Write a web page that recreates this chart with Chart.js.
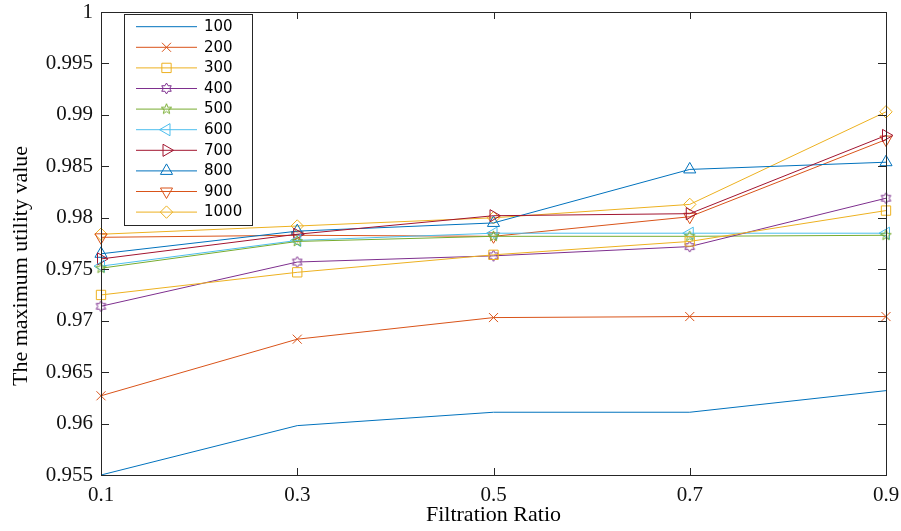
<!DOCTYPE html>
<html lang="en">
<head>
<meta charset="UTF-8">
<title>Maximum utility vs filtration ratio</title>
<script src="https://cdn.jsdelivr.net/npm/chart.js"></script>
<style>
  html, body { margin: 0; padding: 0; background: #fff; }
</style>
</head>
<body>
<canvas id="myChart" width="901" height="531"></canvas>
<script>
// data
var ratios = [0.1, 0.3, 0.5, 0.7, 0.9];
var seriesNames = ['100', '200', '300', '400', '500', '600', '700', '800', '900', '1000'];
var s100  = [0.9550, 0.9598, 0.9611, 0.9611, 0.9632];
var s200  = [0.9627, 0.9682, 0.9703, 0.9704, 0.9704];
var s300  = [0.9725, 0.9747, 0.9764, 0.9777, 0.9807];
var s400  = [0.9714, 0.9757, 0.9763, 0.9772, 0.9819];
var s500  = [0.9751, 0.9777, 0.9782, 0.9782, 0.9783];
var s600  = [0.9753, 0.9778, 0.9785, 0.9785, 0.9785];
var s700  = [0.9760, 0.9784, 0.9802, 0.9804, 0.9880];
var s800  = [0.9765, 0.9787, 0.9795, 0.9847, 0.9854];
var s900  = [0.9781, 0.9783, 0.9782, 0.9801, 0.9876];
var s1000 = [0.9784, 0.9792, 0.9800, 0.9813, 0.9903];
var xTicks = [0.1, 0.3, 0.5, 0.7, 0.9];
var yTicks = [0.955, 0.96, 0.965, 0.97, 0.975, 0.98, 0.985, 0.99, 0.995, 1];

var allSeries = [s100, s200, s300, s400, s500, s600, s700, s800, s900, s1000];
var colors = ['#0072BD', '#D95319', '#EDB120', '#7E2F8E', '#77AC30',
              '#4DBEEE', '#A2142F', '#0072BD', '#D95319', '#EDB120'];
var serif = '"Liberation Serif", "Times New Roman", serif';
var axisColor = '#262626';

// outline star used for the hexagram / pentagram markers
function starCanvas(n, outer, inner, color) {
    var size = Math.ceil(outer * 2 + 4);
    var c = document.createElement('canvas');
    c.width = size; c.height = size;
    var g = c.getContext('2d');
    g.strokeStyle = color;
    g.lineWidth = 1;
    g.beginPath();
    for (var i = 0; i < n * 2; i++) {
        var r = i % 2 ? inner : outer;
        var a = -Math.PI / 2 + i * Math.PI / n;
        var px = size / 2 + r * Math.cos(a), py = size / 2 + r * Math.sin(a);
        if (i) g.lineTo(px, py); else g.moveTo(px, py);
    }
    g.closePath();
    g.stroke();
    return c;
}

var markers = [
    { style: 'circle', radius: 0, rotation: 0 },
    { style: 'crossRot', radius: 6.4, rotation: 0 },
    { style: 'rect', radius: 6.6, rotation: 0 },
    { style: starCanvas(6, 5.5, 5.5 / Math.sqrt(3), colors[3]), radius: 5.5, rotation: 0 },
    { style: starCanvas(5, 5.5, 2.3, colors[4]), radius: 5.5, rotation: 0 },
    { style: 'triangle', radius: 7, rotation: -90 },
    { style: 'triangle', radius: 7, rotation: 90 },
    { style: 'triangle', radius: 7, rotation: 0 },
    { style: 'triangle', radius: 7, rotation: 180 },
    { style: 'rectRot', radius: 6.2, rotation: 0 }
];

var datasets = allSeries.map(function (vals, i) {
    return {
        label: seriesNames[i],
        data: ratios.map(function (x, j) { return { x: x, y: vals[j] }; }),
        borderColor: colors[i],
        backgroundColor: 'rgba(0,0,0,0)',
        borderWidth: 1,
        pointStyle: markers[i].style,
        pointRadius: markers[i].radius,
        pointHoverRadius: markers[i].radius,
        pointRotation: markers[i].rotation,
        pointBorderColor: colors[i],
        pointBackgroundColor: 'rgba(0,0,0,0)',
        pointBorderWidth: 1,
        tension: 0,
        clip: false
    };
});

function fmt(v) { return String(Number(v.toFixed(3))); }

// box, inward ticks on all four sides, rotated y title
var framePlugin = {
    id: 'frame',
    afterDatasetsDraw: function (chart) {
        var a = chart.chartArea, ctx = chart.ctx;
        var xs = chart.scales.x, ys = chart.scales.y;
        ctx.save();
        ctx.strokeStyle = axisColor;
        ctx.lineWidth = 1;
        ctx.beginPath();
        xTicks.forEach(function (v) {
            var px = Math.round(xs.getPixelForValue(v)) + 0.5;
            ctx.moveTo(px, a.bottom); ctx.lineTo(px, a.bottom - 7);
            ctx.moveTo(px, a.top); ctx.lineTo(px, a.top + 7);
        });
        yTicks.forEach(function (v) {
            var py = Math.round(ys.getPixelForValue(v)) + 0.5;
            ctx.moveTo(a.left, py); ctx.lineTo(a.left + 8, py);
            ctx.moveTo(a.right, py); ctx.lineTo(a.right - 8, py);
        });
        ctx.stroke();
        ctx.strokeRect(Math.round(a.left) + 0.5, Math.round(a.top) + 0.5,
                       Math.round(a.right - a.left), Math.round(a.bottom - a.top));

        ctx.translate(21.5, 266);
        ctx.rotate(-Math.PI / 2);
        ctx.fillStyle = '#000';
        ctx.font = '22px ' + serif;
        ctx.textAlign = 'center';
        ctx.textBaseline = 'middle';
        ctx.fillText('The maximum utility value', 0, 0);
        ctx.restore();
    }
};

// MATLAB-like legend box in the upper left corner
var legendPlugin = {
    id: 'boxLegend',
    afterDraw: function (chart) {
        var ctx = chart.ctx;
        ctx.save();
        ctx.fillStyle = '#fff';
        ctx.fillRect(124.5, 14.5, 128, 211);
        ctx.strokeStyle = axisColor;
        ctx.lineWidth = 1;
        ctx.strokeRect(124.5, 14.5, 128, 211);
        chart.data.datasets.forEach(function (ds, i) {
            var y = 26.7 + i * 20.6;
            ctx.strokeStyle = ds.borderColor;
            ctx.lineWidth = 1;
            ctx.beginPath();
            ctx.moveTo(136, y); ctx.lineTo(197, y);
            ctx.stroke();
            if (ds.pointRadius > 0 && Chart.helpers && Chart.helpers.drawPoint) {
                ctx.fillStyle = 'rgba(0,0,0,0)';
                ctx.strokeStyle = ds.pointBorderColor;
                Chart.helpers.drawPoint(ctx, {
                    pointStyle: ds.pointStyle,
                    rotation: ds.pointRotation,
                    radius: ds.pointRadius,
                    borderWidth: 1
                }, 166.5, y);
            }
            ctx.fillStyle = '#000';
            ctx.font = '15px "DejaVu Sans", sans-serif';
            ctx.textAlign = 'left';
            ctx.textBaseline = 'middle';
            ctx.fillText(ds.label, 204, y + 0.5);
        });
        ctx.restore();
    }
};

var ctx = document.getElementById('myChart').getContext('2d');
var myChart = new Chart(ctx, {
    type: 'line',
    data: { datasets: datasets },
    options: {
        responsive: false,
        animation: false,
        events: [],
        layout: { padding: { top: 12, right: 15, left: 0, bottom: 0 } },
        plugins: {
            legend: { display: false },
            tooltip: { enabled: false }
        },
        scales: {
            x: {
                type: 'linear',
                min: 0.1,
                max: 0.9,
                grid: { display: false, drawTicks: false },
                border: { display: false },
                afterBuildTicks: function (s) { s.ticks = xTicks.map(function (v) { return { value: v }; }); },
                afterFit: function (s) { s.height = 56; s.paddingLeft = 0; s.paddingRight = 0; },
                ticks: {
                    padding: 8,
                    color: '#111',
                    font: { family: serif, size: 21 },
                    maxRotation: 0,
                    callback: function (v) { return fmt(v); }
                },
                title: {
                    display: true,
                    text: 'Filtration Ratio',
                    color: '#000',
                    font: { family: serif, size: 22 },
                    padding: { top: 0, bottom: 3 }
                }
            },
            y: {
                min: 0.955,
                max: 1,
                grid: { display: false, drawTicks: false },
                border: { display: false },
                afterBuildTicks: function (s) { s.ticks = yTicks.map(function (v) { return { value: v }; }); },
                afterFit: function (s) { s.width = 101; s.paddingTop = 0; s.paddingBottom = 0; },
                ticks: {
                    padding: 8,
                    color: '#111',
                    font: { family: serif, size: 21 },
                    callback: function (v) { return fmt(v); }
                }
            }
        }
    },
    plugins: [framePlugin, legendPlugin]
});
</script>
</body>
</html>
